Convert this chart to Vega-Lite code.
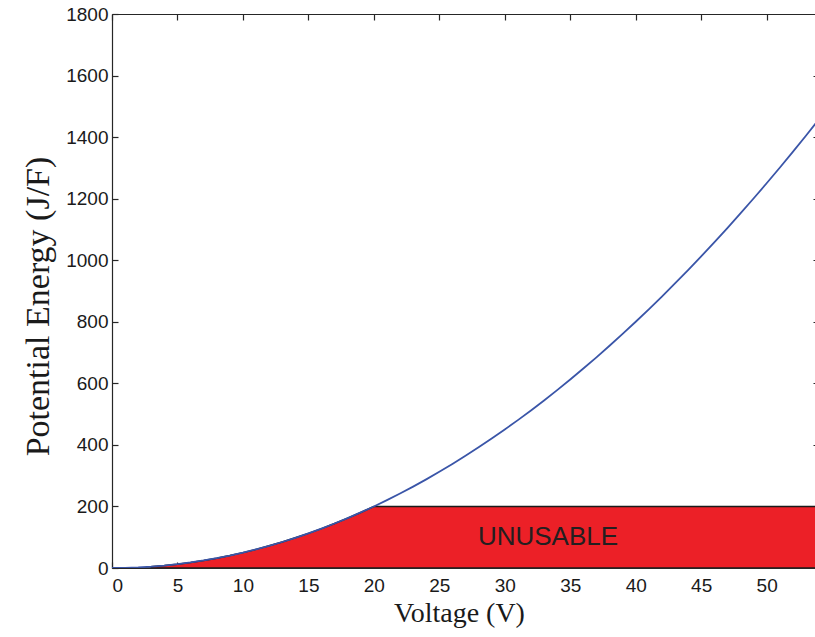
{
  "$schema": "https://vega.github.io/schema/vega-lite/v6.json",
  "autosize": {"type": "none"},
  "width": 707,
  "height": 554,
  "padding": {"left": 112, "top": 14, "right": 0, "bottom": 69},
  "background": "white",
  "config": {
    "view": {"stroke": null},
    "axis": {
      "domainColor": "#262626",
      "domainWidth": 1.2,
      "tickColor": "#262626",
      "tickWidth": 1.2,
      "grid": false,
      "labelFont": "Liberation Sans",
      "labelFontSize": 19,
      "labelColor": "#1a1a1a",
      "titleFont": "Liberation Serif",
      "titleFontWeight": "normal",
      "titleColor": "#1a1a1a"
    }
  },
  "datasets": {
    "curve": [
      {"V": 0, "E": 0}, {"V": 1, "E": 0.5}, {"V": 2, "E": 2}, {"V": 3, "E": 4.5},
      {"V": 4, "E": 8}, {"V": 5, "E": 12.5}, {"V": 6, "E": 18}, {"V": 7, "E": 24.5},
      {"V": 8, "E": 32}, {"V": 9, "E": 40.5}, {"V": 10, "E": 50}, {"V": 11, "E": 60.5},
      {"V": 12, "E": 72}, {"V": 13, "E": 84.5}, {"V": 14, "E": 98}, {"V": 15, "E": 112.5},
      {"V": 16, "E": 128}, {"V": 17, "E": 144.5}, {"V": 18, "E": 162}, {"V": 19, "E": 180.5},
      {"V": 20, "E": 200}, {"V": 21, "E": 220.5}, {"V": 22, "E": 242}, {"V": 23, "E": 264.5},
      {"V": 24, "E": 288}, {"V": 25, "E": 312.5}, {"V": 26, "E": 338}, {"V": 27, "E": 364.5},
      {"V": 28, "E": 392}, {"V": 29, "E": 420.5}, {"V": 30, "E": 450}, {"V": 31, "E": 480.5},
      {"V": 32, "E": 512}, {"V": 33, "E": 544.5}, {"V": 34, "E": 578}, {"V": 35, "E": 612.5},
      {"V": 36, "E": 648}, {"V": 37, "E": 684.5}, {"V": 38, "E": 722}, {"V": 39, "E": 760.5},
      {"V": 40, "E": 800}, {"V": 41, "E": 840.5}, {"V": 42, "E": 882}, {"V": 43, "E": 924.5},
      {"V": 44, "E": 968}, {"V": 45, "E": 1012.5}, {"V": 46, "E": 1058}, {"V": 47, "E": 1104.5},
      {"V": 48, "E": 1152}, {"V": 49, "E": 1200.5}, {"V": 50, "E": 1250}, {"V": 51, "E": 1300.5},
      {"V": 52, "E": 1352}, {"V": 53, "E": 1404.5}, {"V": 54, "E": 1458}
    ],
    "unusable": [
      {"V": 0, "E": 0}, {"V": 3, "E": 0}, {"V": 3, "E": 4.5},
      {"V": 4, "E": 8}, {"V": 5, "E": 12.5}, {"V": 6, "E": 18}, {"V": 7, "E": 24.5},
      {"V": 8, "E": 32}, {"V": 9, "E": 40.5}, {"V": 10, "E": 50}, {"V": 11, "E": 60.5},
      {"V": 12, "E": 72}, {"V": 13, "E": 84.5}, {"V": 14, "E": 98}, {"V": 15, "E": 112.5},
      {"V": 16, "E": 128}, {"V": 17, "E": 144.5}, {"V": 18, "E": 162}, {"V": 19, "E": 180.5},
      {"V": 20, "E": 200}, {"V": 54, "E": 200}
    ],
    "label": [{"V": 33.3, "E": 100, "text": "UNUSABLE"}]
  },
  "layer": [
    {
      "data": {"name": "unusable"},
      "mark": {"type": "area", "color": "#ec2027", "stroke": "#1a1a1a", "strokeWidth": 1.5, "clip": true},
      "encoding": {
        "x": {
          "field": "V", "type": "quantitative",
          "scale": {"domain": [0, 54], "nice": false},
          "axis": {
            "orient": "bottom", "values": [0, 5, 10, 15, 20, 25, 30, 35, 40, 45, 50],
            "tickSize": -6, "labelPadding": 14, "title": "Voltage (V)",
            "titleFontSize": 28, "titlePadding": 4, "titleX": 347
          }
        },
        "y": {
          "field": "E", "type": "quantitative",
          "scale": {"domain": [0, 1800], "nice": false},
          "axis": {
            "orient": "left", "values": [0, 200, 400, 600, 800, 1000, 1200, 1400, 1600, 1800],
            "format": "d",
            "tickSize": -6, "labelPadding": 10, "title": "Potential Energy (J/F)",
            "titleFontSize": 34, "titlePadding": 10, "titleY": 292
          }
        }
      }
    },
    {
      "data": {"name": "curve"},
      "mark": {"type": "line", "color": "#3a55a8", "strokeWidth": 1.8, "clip": true},
      "encoding": {
        "x": {"field": "V", "type": "quantitative", "axis": {"orient": "top", "values": [0, 5, 10, 15, 20, 25, 30, 35, 40, 45, 50], "tickSize": -6, "labels": false, "title": null}},
        "y": {"field": "E", "type": "quantitative", "axis": {"orient": "right", "values": [0, 200, 400, 600, 800, 1000, 1200, 1400, 1600, 1800], "tickSize": -6, "labels": false, "title": null}}
      }
    },
    {
      "data": {"name": "label"},
      "mark": {"type": "text", "font": "Liberation Sans", "fontSize": 26, "color": "#231f20", "align": "center", "baseline": "middle"},
      "encoding": {
        "x": {"field": "V", "type": "quantitative", "axis": null},
        "y": {"field": "E", "type": "quantitative", "axis": null},
        "text": {"field": "text"}
      }
    }
  ],
  "resolve": {"axis": {"x": "independent", "y": "independent"}}
}
